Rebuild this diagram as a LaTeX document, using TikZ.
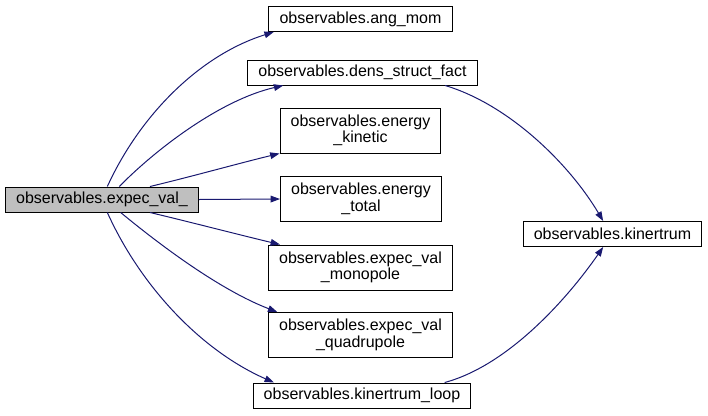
\documentclass[tikz,border=0pt]{standalone}
\usepackage{fontspec}
\setmainfont{Liberation Sans}
\usetikzlibrary{arrows.meta}
\definecolor{edgeblue}{HTML}{191970}
\definecolor{maingrey}{HTML}{BFBFBF}
\begin{document}
\begin{tikzpicture}[
    x=0.75pt, y=-0.75pt,
    box/.style={draw, line width=0.75pt, fill=white, minimum height=18.75pt, inner xsep=8pt, inner ysep=2pt, align=center, font=\fontsize{12pt}{12.4pt}\selectfont},
    arrow/.style={-{Triangle[length=7pt,width=5pt]}, edgeblue, line width=0.75pt}
]
    \useasboundingbox (0,0) rectangle (708,415);
    % caller
    \node[box, fill=maingrey] (expecval) at (102,199.5) {observables.expec\_val\_};
    % callees
    \node[box] (angmom) at (360.5,19) {observables.ang\_mom};
    \node[box] (densstruct) at (362.5,72.5) {observables.dens\_struct\_fact};
    \node[box, minimum height=33.75pt] (enkinetic) at (360.5,130.5) {observables.energy\\\_kinetic};
    \node[box, minimum height=33.75pt] (entotal) at (361,199) {observables.energy\\\_total};
    \node[box, minimum height=33.75pt] (monopole) at (360.5,267.5) {observables.expec\_val\\\_monopole};
    \node[box, minimum height=33.75pt] (quadrupole) at (360.5,335) {observables.expec\_val\\\_quadrupole};
    \node[box] (kinloop) at (362,395.5) {observables.kinertrum\_loop};
    \node[box] (kinertrum) at (612.5,234) {observables.kinertrum};
    % calls from expec_val_
    \draw[arrow] ([xshift=4pt]expecval.north) .. controls (140,115) and (200,55) .. ([xshift=4pt]angmom.south west);
    \draw[arrow] ([xshift=13pt]expecval.north) .. controls (155,150) and (220,100) .. ([xshift=27pt]densstruct.south west);
    \draw[arrow] ([xshift=36pt]expecval.north) .. controls (190,177) and (240,163) .. ([xshift=0pt]enkinetic.south west);
    \draw[arrow] (expecval.east) -- (entotal.west);
    \draw[arrow] ([xshift=36pt]expecval.south) .. controls (190,222) and (240,235) .. ([xshift=9pt]monopole.north west);
    \draw[arrow] ([xshift=14pt]expecval.south) .. controls (160,245) and (220,290) .. ([xshift=7pt]quadrupole.north west);
    \draw[arrow] ([xshift=4pt]expecval.south) .. controls (140,285) and (200,350) .. ([xshift=16pt]kinloop.north west);
    % calls to kinertrum
    \draw[arrow] ([xshift=62pt]densstruct.south) .. controls (510,105) and (570,165) .. ([xshift=-7pt]kinertrum.north);
    \draw[arrow] ([xshift=62pt]kinloop.north) .. controls (510,365) and (570,295) .. ([xshift=-7pt]kinertrum.south);
\end{tikzpicture}
\end{document}
